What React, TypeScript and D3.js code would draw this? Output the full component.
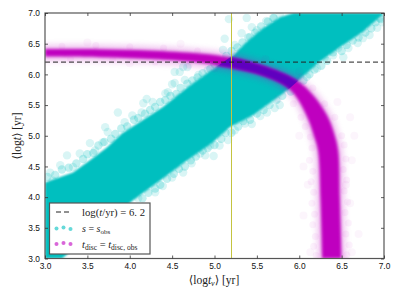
import React, { useEffect, useRef } from 'react';
import * as d3 from 'd3';

type Pt = [number, number];

// edges of the opaque part of the s = s_obs cloud
const cyanUpper: Pt[] = [[3.0, 4.24], [3.33, 4.4], [3.53, 4.6], [3.73, 4.81], [3.91, 5.04], [4.09, 5.2], [4.39, 5.47], [4.68, 5.79], [4.91, 6.02], [5.22, 6.31], [5.38, 6.53], [5.57, 6.75], [5.77, 6.93], [5.93, 7.0], [7.0, 7.0]];
const cyanLower: Pt[] = [[3.0, 3.0], [3.2, 3.0], [4.04, 3.95], [4.36, 4.27], [4.68, 4.6], [4.98, 4.89], [5.18, 5.14], [5.45, 5.33], [5.86, 5.74], [6.24, 6.2], [6.48, 6.44], [6.75, 6.69], [6.98, 6.97]];

// single points visible outside the cloud
const cyanFringe: Pt[] = [
  [3.06, 4.4], [3.18, 4.52], [3.26, 4.68], [3.41, 4.71], [3.53, 4.88], [3.68, 4.89], [3.74, 5.06], [3.33, 4.49], [3.59, 4.76], [3.09, 4.27],
  [3.94, 5.22], [4.03, 5.33], [4.14, 5.38], [4.16, 5.53], [4.2, 5.6], [4.27, 5.55], [4.42, 5.69], [4.45, 5.71], [4.5, 5.84], [4.53, 5.86],
  [4.53, 6.04], [4.59, 6.04], [4.65, 5.91], [4.81, 5.99], [4.92, 6.07], [4.63, 6.12], [4.68, 6.12], [5.12, 6.58], [5.17, 6.9], [5.38, 6.92],
  [5.32, 6.67], [5.24, 6.48], [5.44, 6.77], [5.5, 6.72], [5.61, 6.87], [5.69, 6.92], [5.77, 6.97], [5.42, 6.61], [5.1, 6.4], [3.86, 5.38], [3.71, 5.14],
  [4.99, 4.67], [4.89, 4.68], [4.73, 4.55], [4.63, 4.4], [4.5, 4.32], [4.39, 4.18], [4.3, 4.08], [4.1, 3.98], [5.06, 4.84], [5.16, 4.93],
  [4.95, 4.84], [4.83, 4.71], [5.44, 5.19], [5.36, 5.2], [5.54, 5.32], [5.62, 5.38], [5.71, 5.45], [5.77, 5.5], [5.24, 5.09], [6.09, 5.96],
  [6.21, 6.1], [6.52, 6.28], [6.46, 6.43], [6.58, 6.43], [6.69, 6.51], [6.83, 6.64], [6.92, 6.76], [6.98, 6.85], [6.75, 6.59], [6.4, 6.31], [6.3, 6.27], [6.95, 6.92],
];

// points packed against the cloud edges
const cyanEdge: Pt[] = [
  [3.03, 4.33], [3.12, 4.36], [3.2, 4.45], [3.28, 4.48], [3.37, 4.55], [3.45, 4.62], [3.5, 4.7], [3.57, 4.72], [3.63, 4.84], [3.7, 4.9],
  [3.78, 4.95], [3.83, 5.03], [3.9, 5.12], [3.97, 5.15], [4.05, 5.26], [4.1, 5.29], [4.18, 5.36], [4.24, 5.42], [4.3, 5.47], [4.36, 5.55],
  [4.42, 5.58], [4.48, 5.65], [4.55, 5.68], [4.6, 5.78], [4.68, 5.85], [4.74, 5.9], [4.8, 5.95], [4.86, 6.02], [4.95, 6.09], [5.0, 6.16],
  [5.05, 6.2], [5.14, 6.3], [5.2, 6.38], [5.27, 6.44], [5.33, 6.52], [5.4, 6.6], [5.48, 6.68], [5.55, 6.78], [5.63, 6.86], [5.7, 6.92],
  [4.15, 3.98], [4.22, 4.07], [4.3, 4.14], [4.36, 4.2], [4.44, 4.3], [4.52, 4.38], [4.58, 4.46], [4.65, 4.5], [4.72, 4.6], [4.78, 4.66],
  [4.86, 4.76], [4.92, 4.8], [5.0, 4.85], [5.08, 4.95], [5.13, 5.05], [5.2, 5.05], [5.28, 5.15], [5.34, 5.24], [5.42, 5.26], [5.5, 5.36],
  [5.58, 5.42], [5.65, 5.5], [5.73, 5.58], [5.8, 5.65], [5.9, 5.72], [5.98, 5.82], [6.05, 5.9], [6.12, 6.0], [6.18, 6.08], [6.26, 6.14],
  [6.33, 6.22], [6.4, 6.36], [6.5, 6.38], [6.56, 6.48], [6.63, 6.55], [6.7, 6.6], [6.78, 6.68], [6.85, 6.75], [6.9, 6.85], [6.96, 6.9],
];

// edges of the t_disc = t_disc,obs band
const magentaOuter: Pt[] = [[3.0, 6.41], [3.65, 6.41], [4.24, 6.39], [4.83, 6.34], [5.21, 6.27], [5.57, 6.14], [5.97, 5.9], [6.16, 5.67], [6.33, 5.33], [6.41, 5.05], [6.46, 4.76], [6.48, 3.95], [6.5, 3.0]];
const magentaInner: Pt[] = [[3.0, 6.29], [3.65, 6.28], [4.24, 6.25], [4.83, 6.19], [5.18, 6.11], [5.57, 5.98], [5.86, 5.79], [5.99, 5.58], [6.11, 5.25], [6.17, 5.01], [6.22, 4.76], [6.25, 3.95], [6.27, 3.0]];

const magentaFringe: Pt[] = [
  [6.05, 4.5], [6.62, 4.6], [6.05, 3.7], [6.7, 3.4], [6.13, 3.1], [6.65, 5.0], [6.6, 3.9], [6.1, 4.2], [6.62, 3.1], [6.6, 5.3],
  [6.0, 5.0], [6.45, 5.55], [3.5, 6.52], [4.0, 6.18], [4.6, 6.5], [5.0, 6.1], [5.6, 6.25], [6.0, 6.05], [5.75, 5.6], [6.55, 4.2],
];

// softer points hugging the magenta band
const magentaEdge: Pt[] = [
  [6.5, 5.0], [6.53, 4.85], [6.55, 4.62], [6.52, 4.45], [6.56, 4.28], [6.53, 4.1], [6.57, 3.92], [6.54, 3.75], [6.58, 3.58], [6.55, 3.4], [6.59, 3.22], [6.56, 3.06],
  [6.13, 4.98], [6.15, 4.8], [6.12, 4.6], [6.16, 4.42], [6.14, 4.25], [6.17, 4.08], [6.15, 3.9], [6.18, 3.72], [6.16, 3.55], [6.19, 3.36], [6.17, 3.2], [6.2, 3.05],
  [6.02, 5.3], [6.07, 5.15], [5.93, 5.52], [6.42, 5.3], [6.3, 5.52], [6.16, 5.78], [6.02, 5.96],
  [3.2, 6.46], [3.6, 6.47], [4.0, 6.45], [4.4, 6.43], [4.8, 6.38], [3.3, 6.25], [3.8, 6.24], [4.3, 6.2], [4.7, 6.15],
];

const xTicks = [3.0, 3.5, 4.0, 4.5, 5.0, 5.5, 6.0, 6.5, 7.0];
const yTicks = [3.0, 3.5, 4.0, 4.5, 5.0, 5.5, 6.0, 6.5, 7.0];
const refLogT = 6.2;
const refLogTv = 5.2;

const width = 399;
const height = 299;
const m = { left: 45, right: 384, top: 13, bottom: 258.5 };
const serif = '"Liberation Serif", "DejaVu Serif", serif';
const sans = '"Liberation Sans", Arial, sans-serif';
const cyan = '#00bfbf';
const magenta = '#bf00bf';
const purple = '#5f00bf';

const x = d3.scaleLinear().domain([3, 7]).range([m.left, m.right]);
const y = d3.scaleLinear().domain([3, 7]).range([m.bottom, m.top]);
const line = d3.line<Pt>().x((d) => x(d[0])).y((d) => y(d[1]));
const smooth = d3.line<Pt>().x((d) => x(d[0])).y((d) => y(d[1])).curve(d3.curveCatmullRom);

const cyanPath = line([...cyanUpper, ...[...cyanLower].reverse()]) + 'Z';
const magentaPath = smooth(magentaOuter) + 'L' + (smooth([...magentaInner].reverse()) as string).slice(1) + 'Z';

export default function App() {
  const axesRef = useRef<SVGGElement>(null);

  useEffect(() => {
    const g = d3.select(axesRef.current);
    g.selectAll('*').remove();
    const fmt = d3.format('.1f');
    const none = () => '';
    const draw = (axis: any, tx: number, ty: number) => {
      const a = g.append('g').attr('transform', `translate(${tx},${ty})`).call(axis);
      a.select('.domain').remove();
      a.selectAll('line').attr('stroke', '#333').attr('stroke-width', 0.8);
      a.selectAll('text').attr('font-family', sans).attr('font-size', 8.4).attr('fill', '#111');
    };
    draw(d3.axisBottom(x).tickValues(xTicks).tickSize(-3).tickPadding(5).tickFormat(fmt as any), 0, m.bottom);
    draw(d3.axisTop(x).tickValues(xTicks).tickSize(-3).tickFormat(none as any), 0, m.top);
    draw(d3.axisLeft(y).tickValues(yTicks).tickSize(-3).tickPadding(5).tickFormat(fmt as any), m.left, 0);
    draw(d3.axisRight(y).tickValues(yTicks).tickSize(-3).tickFormat(none as any), m.right, 0);
  }, []);

  return (
    <svg width={width} height={height} style={{ position: 'absolute', left: 0, top: 0, background: '#fff' }}>
      <defs>
        <clipPath id="plot">
          <rect x={m.left} y={m.top} width={m.right - m.left} height={m.bottom - m.top} />
        </clipPath>
        <clipPath id="cyanClip">
          <path d={cyanPath} />
        </clipPath>
        <filter id="soft" x="-5%" y="-5%" width="110%" height="110%">
          <feGaussianBlur stdDeviation="1" />
        </filter>
        <filter id="softer" x="-5%" y="-5%" width="110%" height="110%">
          <feGaussianBlur stdDeviation="1.6" />
        </filter>
        <filter id="halo" x="-10%" y="-10%" width="120%" height="120%">
          <feGaussianBlur stdDeviation="3" />
        </filter>
      </defs>

      <g clipPath="url(#plot)">
        {cyanFringe.map((d, i) => (
          <circle key={i} cx={x(d[0])} cy={y(d[1])} r={4.2} fill={cyan} opacity={0.15} />
        ))}
        {cyanEdge.map((d, i) => (
          <circle key={i} cx={x(d[0])} cy={y(d[1])} r={4.2} fill={cyan} opacity={0.24} />
        ))}
        <path d={cyanPath} fill={cyan} filter="url(#soft)" />

        {magentaFringe.map((d, i) => (
          <circle key={i} cx={x(d[0])} cy={y(d[1])} r={4} fill={magenta} opacity={0.04} />
        ))}
        {magentaEdge.map((d, i) => (
          <circle key={i} cx={x(d[0])} cy={y(d[1])} r={3.5} fill={magenta} opacity={0.05} />
        ))}
        <path d={magentaPath} fill={magenta} stroke={magenta} strokeWidth={8} opacity={0.25} filter="url(#halo)" />
        <path d={magentaPath} fill={magenta} filter="url(#softer)" />
        <g clipPath="url(#cyanClip)">
          <path d={magentaPath} fill={purple} filter="url(#softer)" />
        </g>

        <line x1={x(refLogTv)} x2={x(refLogTv)} y1={m.top} y2={m.bottom} stroke="#c4c440" strokeWidth={1} shapeRendering="crispEdges" />
        <line x1={m.left} x2={m.right} y1={y(refLogT)} y2={y(refLogT)} stroke="#222" strokeWidth={1} strokeDasharray="5 3" />
      </g>

      <rect x={m.left} y={m.top} width={m.right - m.left} height={m.bottom - m.top} fill="none" stroke="#555" strokeWidth={1.2} />
      <g ref={axesRef} />

      <text x={214} y={284} textAnchor="middle" fontFamily={serif} fontSize={11.5} fill="#222">
        ⟨log<tspan fontStyle="italic">t</tspan><tspan fontStyle="italic" fontSize={8} dy={2}>v</tspan><tspan dy={-2}>⟩ [yr]</tspan>
      </text>
      <text transform="translate(21,136) rotate(-90)" textAnchor="middle" fontFamily={serif} fontSize={11.5} fill="#222">
        ⟨log<tspan fontStyle="italic">t</tspan>⟩ [yr]
      </text>

      <rect x={49.5} y={203} width={100.5} height={51} fill="#fff" stroke="#555" strokeWidth={1.2} />
      <line x1={56} x2={70} y1={212} y2={212} stroke="#222" strokeWidth={1} strokeDasharray="5 3" />
      <circle cx={56.5} cy={228.5} r={2} fill={cyan} opacity={0.6} />
      <circle cx={63.5} cy={227.5} r={2} fill={cyan} opacity={0.6} />
      <circle cx={70.5} cy={229} r={2} fill={cyan} opacity={0.6} />
      <circle cx={56.5} cy={244} r={2} fill={magenta} opacity={0.6} />
      <circle cx={63.5} cy={243} r={2} fill={magenta} opacity={0.6} />
      <circle cx={70.5} cy={244} r={2} fill={magenta} opacity={0.6} />
      <text x={82} y={215.5} fontFamily={serif} fontSize={10.7} fill="#222">
        log(<tspan fontStyle="italic">t</tspan>/yr) = 6. 2
      </text>
      <text x={82} y={232} fontFamily={serif} fontSize={10} fill="#222">
        <tspan fontStyle="italic">s</tspan> = <tspan fontStyle="italic">s</tspan><tspan fontSize={7} dy={1.5}>obs</tspan>
      </text>
      <text x={82} y={248} fontFamily={serif} fontSize={10.5} fill="#222">
        <tspan fontStyle="italic">t</tspan><tspan fontSize={7.5} dy={1.5}>disc</tspan><tspan dy={-1.5}> = </tspan><tspan fontStyle="italic">t</tspan><tspan fontSize={7.5} dy={1.5}>disc, obs</tspan>
      </text>
    </svg>
  );
}
